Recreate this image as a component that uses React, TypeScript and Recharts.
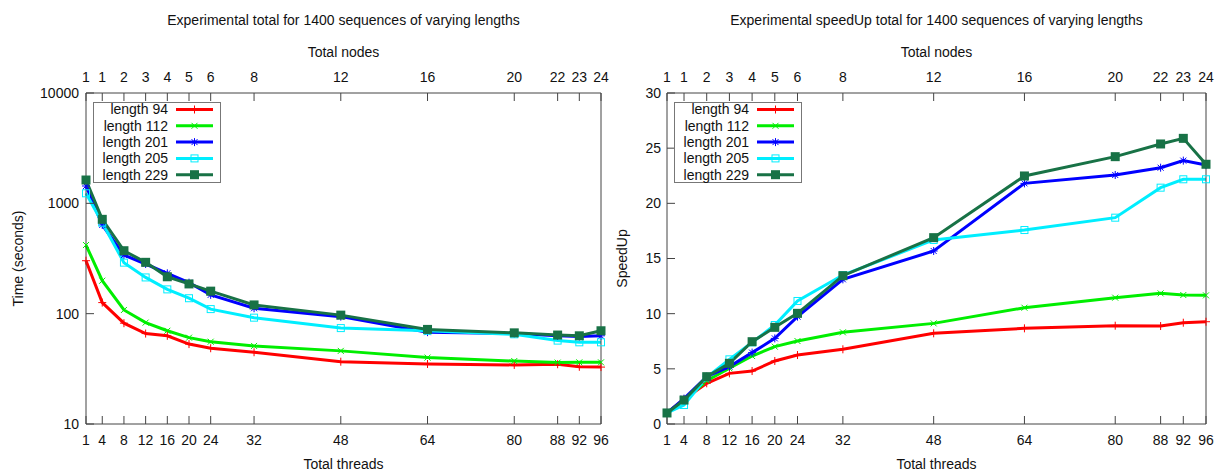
import React from "react";
import { LineChart, Line, XAxis, YAxis, Legend } from "recharts";

// x positions: total threads, with the matching node count shown on the top axis
const threads = [1, 4, 8, 12, 16, 20, 24, 32, 48, 64, 80, 88, 92, 96];
const nodes = [1, 1, 2, 3, 4, 5, 6, 8, 12, 16, 20, 22, 23, 24];

// execution time (seconds)
const time94 = [302, 126, 82, 66, 63, 53, 48.6, 44.7, 36.7, 35, 34.3, 34.8, 33, 32.8];
const time112 = [419, 199, 108, 83, 70, 60.6, 55.7, 51, 46, 40, 37.2, 36, 36.2, 36.2];
const time201 = [1436, 637, 340, 282, 232, 191, 148, 112, 94, 68, 66, 63, 62, 63];
const time205 = [1233, 668, 290, 213, 166, 138, 110, 92, 74, 70, 65, 57, 55, 55];
const time229 = [1627, 716, 372, 292, 216, 186, 160, 120, 97, 72, 67, 64, 63, 70];

// speedup
const speed94 = [1, 2.24, 3.69, 4.59, 4.8, 5.71, 6.25, 6.77, 8.22, 8.67, 8.91, 8.88, 9.18, 9.27];
const speed112 = [1, 2.15, 3.92, 5.05, 6.16, 7.01, 7.52, 8.31, 9.12, 10.54, 11.45, 11.84, 11.69, 11.66];
const speed201 = [1, 2.3, 4.29, 5.2, 6.47, 7.76, 9.73, 13.11, 15.68, 21.81, 22.57, 23.23, 23.87, 23.48];
const speed205 = [1, 1.72, 4.23, 5.86, 7.4, 8.97, 11.15, 13.5, 16.68, 17.58, 18.7, 21.42, 22.18, 22.18];
const speed229 = [1, 2.17, 4.29, 5.5, 7.46, 8.76, 10.03, 13.44, 16.89, 22.48, 24.23, 25.38, 25.89, 23.54];

const timeTicks = [10, 100, 1000, 10000];
const timeMinor = [20, 30, 40, 50, 60, 70, 80, 90, 200, 300, 400, 500, 600, 700, 800, 900, 2000, 3000, 4000, 5000, 6000, 7000, 8000, 9000];
const speedTicks = [0, 5, 10, 15, 20, 25, 30];

type Shape = "plus" | "cross" | "star" | "square" | "filled";

const series: { key: string; name: string; color: string; shape: Shape }[] = [
  { key: "l94", name: "length 94", color: "#ff0000", shape: "plus" },
  { key: "l112", name: "length 112", color: "#00ee00", shape: "cross" },
  { key: "l201", name: "length 201", color: "#0000ff", shape: "star" },
  { key: "l205", name: "length 205", color: "#00eeff", shape: "square" },
  { key: "l229", name: "length 229", color: "#187246", shape: "filled" },
];

const timeRows = threads.map((t, i) => ({
  threads: t, l94: time94[i], l112: time112[i], l201: time201[i], l205: time205[i], l229: time229[i],
}));
const speedRows = threads.map((t, i) => ({
  threads: t, l94: speed94[i], l112: speed112[i], l201: speed201[i], l205: speed205[i], l229: speed229[i],
}));

const FONT = '"Liberation Sans", Arial, sans-serif';
const AXIS = "#444";
const TXT = { fill: "#111", fontSize: 14, fontFamily: FONT };

const Marker = ({ cx, cy, shape, color }: { cx: number; cy: number; shape: Shape; color: string }) => {
  if (shape === "square")
    return <rect x={cx - 3.5} y={cy - 3.5} width={7} height={7} fill="none" stroke={color} strokeWidth={1} />;
  if (shape === "filled") return <rect x={cx - 4.5} y={cy - 4.5} width={9} height={9} fill={color} />;
  const plus = `M${cx - 4},${cy}H${cx + 4}M${cx},${cy - 4}V${cy + 4}`;
  const cross = `M${cx - 3},${cy - 3}L${cx + 3},${cy + 3}M${cx - 3},${cy + 3}L${cx + 3},${cy - 3}`;
  const d = shape === "plus" ? plus : shape === "cross" ? cross : plus + cross;
  return <path d={d} stroke={color} strokeWidth={1} fill="none" />;
};

const SeriesKey = () => (
  <svg width={128} height={81} style={{ display: "block" }}>
    <rect x={0.5} y={0.5} width={127} height={80} fill="#fff" stroke="#777" />
    {series.map((s, i) => {
      const y = 7.5 + i * 16.3;
      return (
        <g key={s.key}>
          <text x={75} y={y + 4.8} textAnchor="end" style={TXT}>{s.name}</text>
          <line x1={83} x2={120} y1={y} y2={y} stroke={s.color} strokeWidth={3} />
          <Marker cx={101.5} cy={y} shape={s.shape} color={s.color} />
        </g>
      );
    })}
  </svg>
);

interface PanelProps {
  left: number;
  width: number;
  yWidth: number;
  rWidth: number;
  title: string;
  yLabel: string;
  yLabelOffset: number;
  rows: any[];
  log?: boolean;
}

const Panel = ({ left, width, yWidth, rWidth, title, yLabel, yLabelOffset, rows, log }: PanelProps) => {
  const yDomain = log ? [10, 10000] : [0, 30];
  const yTicks = log ? timeTicks : speedTicks;
  return (
    <div style={{ position: "absolute", left, top: 0, width, height: 473 }}>
      <div
        style={{
          position: "absolute", left: yWidth, width: width - yWidth - rWidth, top: 12, lineHeight: "16px",
          textAlign: "center", fontFamily: FONT, fontSize: 14, color: "#111",
        }}
      >
        {title}
      </div>
      <LineChart width={width} height={473} data={rows} margin={{ top: 0, right: 0, bottom: 0, left: 0 }}>
        <XAxis
          xAxisId="bottom" dataKey="threads" type="number" domain={[1, 96]} ticks={threads} interval={0}
          height={49} tickSize={-8} tickMargin={19} stroke={AXIS} tick={TXT}
          label={{ value: "Total threads", position: "insideBottom", offset: 4, style: TXT }}
        />
        <XAxis
          xAxisId="top" orientation="top" dataKey="threads" type="number" domain={[1, 96]} ticks={threads}
          interval={0} height={93} tickSize={-8} tickMargin={19} stroke={AXIS} tick={TXT}
          tickFormatter={(v: number) => String(nodes[threads.indexOf(v)])}
          label={{ value: "Total nodes", position: "insideTop", offset: 47, style: TXT }}
        />
        <YAxis
          yAxisId="main" type="number" scale={log ? "log" : "linear"} domain={yDomain} ticks={yTicks}
          allowDataOverflow width={yWidth} tickSize={-8} tickMargin={log ? 15 : 14} stroke={AXIS} tick={TXT}
          label={{ value: yLabel, angle: -90, position: "insideLeft", offset: yLabelOffset, style: { ...TXT, textAnchor: "middle" } }}
        />
        <YAxis
          yAxisId="mainR" orientation="right" type="number" scale={log ? "log" : "linear"} domain={yDomain}
          ticks={yTicks} allowDataOverflow width={rWidth} tickSize={-8} tick={false} stroke={AXIS}
        />
        {log && (
          <YAxis
            yAxisId="minorL" type="number" scale="log" domain={yDomain} ticks={timeMinor} allowDataOverflow
            width={0} tickSize={-4} tick={false} axisLine={false} stroke={AXIS}
          />
        )}
        {log && (
          <YAxis
            yAxisId="minorR" orientation="right" type="number" scale="log" domain={yDomain} ticks={timeMinor}
            allowDataOverflow width={0} tickSize={-4} tick={false} axisLine={false} stroke={AXIS}
          />
        )}
        <Legend
          content={<SeriesKey />} layout="vertical" align="center" verticalAlign="middle"
          wrapperStyle={{ left: yWidth + 7, top: 102, width: 128, height: 81 }}
        />
        {series.map((s) => (
          <Line
            key={s.key} xAxisId="bottom" yAxisId="main" dataKey={s.key} name={s.name} type="linear"
            stroke={s.color} strokeWidth={3} isAnimationActive={false}
            dot={(p: any) => <Marker key={`${s.key}-${p.index}`} cx={p.cx} cy={p.cy} shape={s.shape} color={s.color} />}
            activeDot={false}
          />
        ))}
      </LineChart>
    </div>
  );
};

export default function App() {
  return (
    <div style={{ position: "absolute", left: 0, top: 0, width: 1217, height: 473, background: "#fff" }}>
      <Panel
        left={0} width={610} yWidth={86} rWidth={9} log rows={timeRows}
        title="Experimental total for 1400 sequences of varying lengths" yLabel="Time (seconds)" yLabelOffset={18}
      />
      <Panel
        left={610} width={607} yWidth={57} rWidth={11} rows={speedRows}
        title="Experimental speedUp total for 1400 sequences of varying lengths" yLabel="SpeedUp" yLabelOffset={12}
      />
    </div>
  );
}
